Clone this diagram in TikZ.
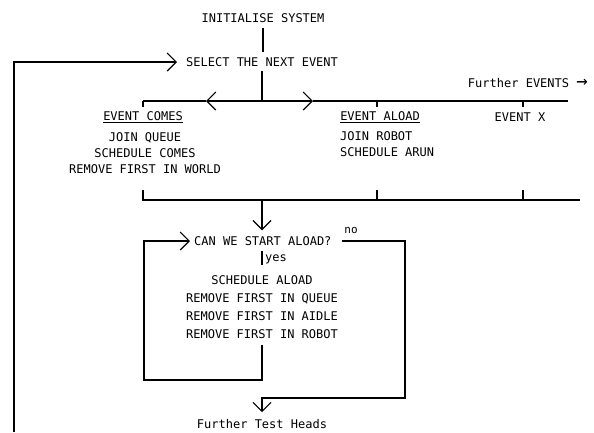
\documentclass[tikz,border=0pt]{standalone}
\usepackage{fontspec}
\setmainfont{DejaVu Sans Mono}
\usetikzlibrary{arrows.meta,positioning}
\tikzset{
  pen/.style={line width=1.1pt},
  flow/.style={pen,-{Straight Barb[length=9pt,width=18pt]}},
  lbl/.style={inner sep=0pt,font=\fontsize{12}{16}\selectfont},
  acts/.style={lbl,align=center,font=\fontsize{12}{18}\selectfont},
}

\begin{document}
\begin{tikzpicture}[x=1pt,y=-1pt]
  \useasboundingbox (0,0) rectangle (594,432);
  % executive
  \node[lbl] (init) at (263,18) {INITIALISE SYSTEM};
  \node[lbl,anchor=west] (select) at (186,62) {SELECT THE NEXT EVENT};
  \node[lbl,anchor=east] (more) at (588,83) {Further EVENTS {\fontsize{19}{16}\selectfont →}};
  \coordinate (back) at (14,432);
  \draw[pen,shorten <=5pt,shorten >=5pt] (init.south) -- (init.south |- select.north);
  \draw[flow,shorten >=9pt] (back) |- (select.west);
  % event bus
  \coordinate (jt) at (262,101);
  \coordinate (bl) at (143,101);
  \coordinate (la) at (206,101);
  \coordinate (ra) at (313,101);
  \coordinate (br) at (568,101);
  \draw[pen,shorten <=4pt] (select.south -| jt) -- (jt);
  \draw[flow] (jt) -- (la);
  \draw[pen] (la) -- (bl);
  \draw[flow] (jt) -- (ra);
  \draw[pen] (ra) -- (br);
  \foreach \x in {143,377,523} \draw[pen] (\x,101) -- (\x,107);
  % event routines
  \node[lbl] (comes) at (143,117) {\underline{EVENT COMES}};
  \node[lbl] (aload) at (380,117) {\underline{EVENT ALOAD}};
  \node[lbl] (evx) at (520,117) {EVENT X};
  \node[lbl,align=center] (cbody) at (145,153) {JOIN QUEUE\\SCHEDULE COMES\\REMOVE FIRST IN WORLD};
  \node[lbl,align=left,anchor=north west] (abody) at (340,131) {JOIN ROBOT\\SCHEDULE ARUN};
  % return bus
  \coordinate (jb) at (262,200);
  \coordinate (bbl) at (143,190);
  \coordinate (bbr) at (580,200);
  \draw[pen] (bbl) |- (bbr);
  \foreach \x in {377,523} \draw[pen] (\x,190) -- (\x,200);
  % test heads
  \node[lbl,anchor=west] (start) at (194,241) {CAN WE START ALOAD?};
  \node[lbl,font=\fontsize{11}{12}\selectfont] (no) at (351,230) {no};
  \node[lbl,anchor=west] (yes) at (265,259) {yes};
  \node[acts] (work) at (262,307) {SCHEDULE ALOAD\\REMOVE FIRST IN QUEUE\\REMOVE FIRST IN AIDLE\\REMOVE FIRST IN ROBOT};
  \node[lbl] (heads) at (262,424) {Further Test Heads};
  \coordinate (lc) at (144,380);
  \coordinate (nr) at (405,398);
  \draw[flow,shorten >=6pt] (jb) -- (jb |- start.north);
  \draw[pen] ([yshift=3pt]yes.north west -| jb) -- ([yshift=-1pt]yes.south west -| jb);
  \draw[flow,shorten <=6pt,shorten >=4pt] (work.south) |- (lc) |- (start.west);
  \draw[flow,shorten <=10pt,shorten >=7pt] (start.east) -| (nr) -| (heads.north);
\end{tikzpicture}
\end{document}
